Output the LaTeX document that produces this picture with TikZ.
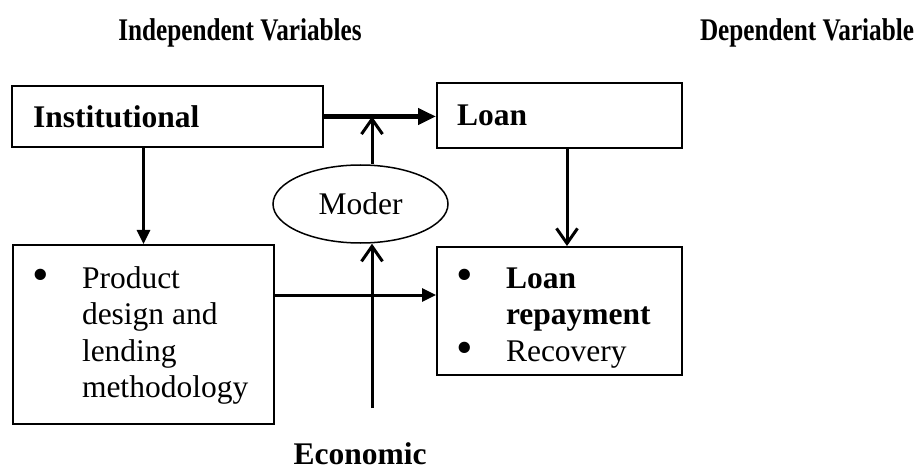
\documentclass[tikz,border=0pt]{standalone}
\usepackage{fontspec}
\setmainfont{Liberation Serif}
\usepackage{graphicx}
\usetikzlibrary{arrows.meta,shapes.geometric}
\newcommand{\bul}{\raisebox{-2.5pt}{\scalebox{1.5}{\textbullet}}}

\begin{document}
\begin{tikzpicture}[x=1pt,y=-1pt,font=\fontsize{31.5}{36.5}\selectfont]
	\tikzstyle{box}=[draw=black,line width=2pt,rectangle,inner sep=0pt]
	\tikzstyle{head}=[font=\fontsize{31.5}{36.5}\selectfont\bfseries]
	\tikzstyle{solidarr}=[-{Triangle[length=14pt,width=13pt]},line width=3pt]
	\tikzstyle{openarr}=[-{Straight Barb[length=15pt,width=21pt]},line width=3pt]
	\useasboundingbox (0,0) rectangle (917,470);
	\node[head](indep) at (240,33) {\scalebox{0.8}[1]{Independent Variables}};
	\node[head](dep) at (807,33) {\scalebox{0.8}[1]{Dependent Variable}};
	\node[box,minimum width=311pt,minimum height=61pt,text width=269pt,align=left](inst) at (167.5,116.5) {\textbf{Institutional}};
	\node[box,minimum width=245pt,minimum height=65pt,text width=205pt,align=left](loan) at (559.5,115.5) {\textbf{Loan}};
	\node[box,text height=43pt,text depth=136pt](prod) at (143.5,334.5) {\begin{tabular}[t]{@{\hspace{20pt}}p{49pt}@{}p{192pt}@{}}\bul & Product\\ & design and\\ & lending\\ & methodology\end{tabular}};
	\node[box,text height=41pt,text depth=87pt](repay) at (559.5,311) {\begin{tabular}[t]{@{\hspace{19pt}}p{50pt}@{}p{176pt}@{}}\bul & \textbf{Loan}\\ & \textbf{repayment}\\ \bul & Recovery\end{tabular}};
	\node[draw,ellipse,line width=1.5pt,minimum width=175pt,minimum height=78pt,inner sep=0pt](moder) at (360.5,204) {Moder};
	\node[head](econ) at (360,454) {Economic};
	\coordinate (jn) at (372,116.5);
	\coordinate (eb) at (372,408);
	\coordinate (pr) at (0,295);
	\coordinate (lr) at (567,0);
	\draw[-{Triangle[length=18pt,width=16pt]},line width=5pt] (inst.east) -- (loan.west |- inst.east);
	\draw[openarr] (jn |- moder.north) -- (jn);
	\draw[openarr] (eb) -- (jn |- moder.south);
	\draw[solidarr] (prod.north |- inst.south) -- (prod.north);
	\draw[solidarr] (prod.east |- pr) -- (repay.west |- pr);
	\draw[openarr] (loan.south -| lr) -- (repay.north -| lr);
\end{tikzpicture}
\end{document}
